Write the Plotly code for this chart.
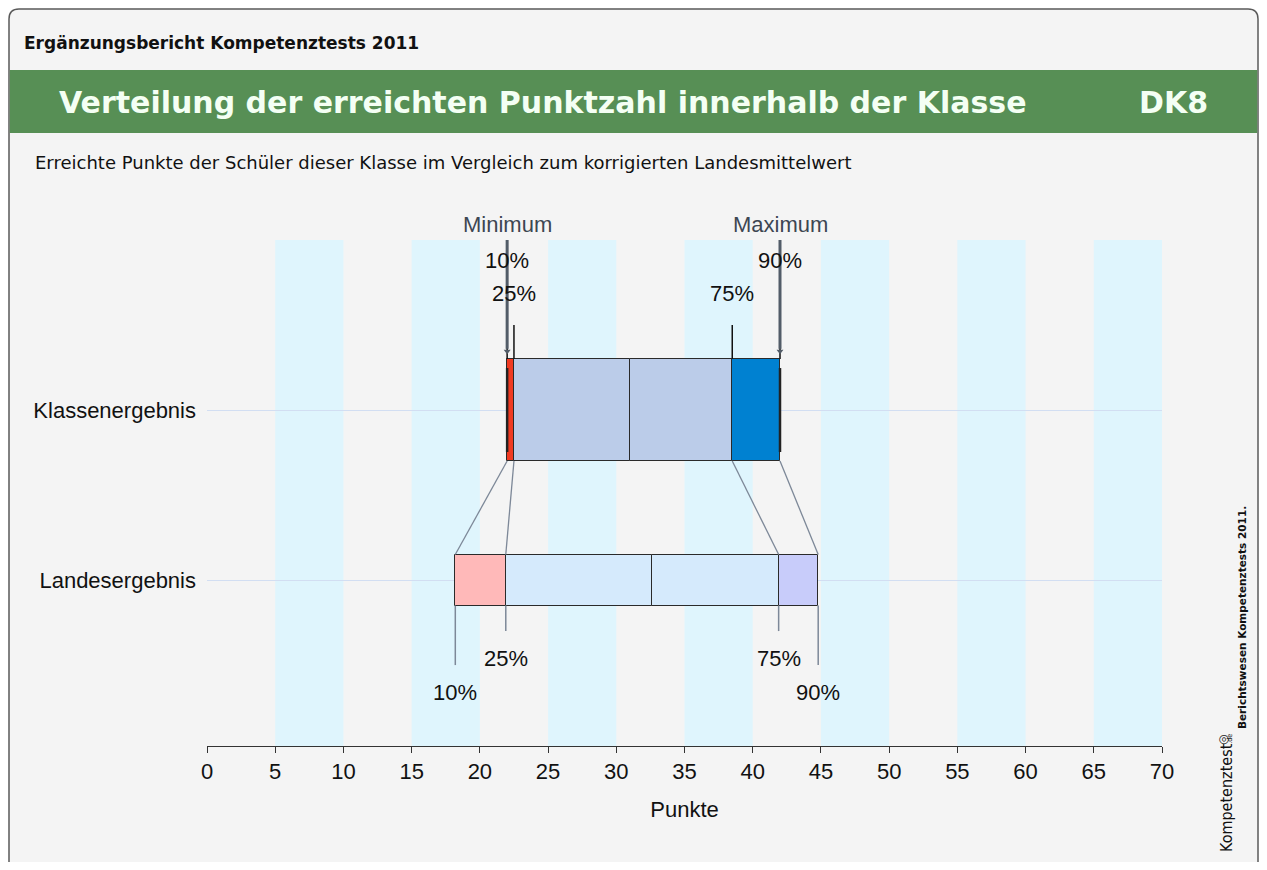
import plotly.graph_objects as go

# ---------------- data ----------------
categories = ["Klassenergebnis", "Landesergebnis"]
perc_labels = ["10%", "25%", "75%", "90%"]
# p10, p25, median, p75, p90
klasse_perc = [22.0, 22.5, 31.0, 38.5, 42.0]
land_perc = [18.2, 21.9, 32.6, 41.9, 44.8]
klasse_min = 22.0
klasse_max = 42.0
x_ticks = [0, 5, 10, 15, 20, 25, 30, 35, 40, 45, 50, 55, 60, 65, 70]

header = "Ergänzungsbericht Kompetenztests 2011"
title = "Verteilung der erreichten Punktzahl innerhalb der Klasse"
code = "DK8"
subtitle = "Erreichte Punkte der Schüler dieser Klasse im Vergleich zum korrigierten Landesmittelwert"

# ---------------- layout helpers (window pixel coords) ----------------
OFF = 8                       # browser body margin
W, H = 1267 - 2 * OFF, 870 - 2 * OFF
PL, PR, PT, PB = 207, 1162, 240, 746


def px(x):
    return (x - PL) / (PR - PL)


def py(y):
    return (PB - y) / (PB - PT)


Y_K, Y_L = 1, 0          # category positions
HK, HL = 0.3, 0.15       # half box heights
klasse_colors = ["#f03a22", "#bbcce9", "#bbcce9", "#0081d1"]
land_colors = ["#ffb9b9", "#d5eafc", "#d5eafc", "#c8ccfa"]
FONT = "Liberation Sans, Arial, Helvetica, sans-serif"
HFONT = "DejaVu Sans, sans-serif"
FS = 22

fig = go.Figure()


def box(perc, yv, half, colors):
    bases = perc[:-1]
    widths = [perc[i + 1] - perc[i] for i in range(4)]
    fig.add_trace(go.Bar(
        y=[yv] * 4, x=widths, base=bases, orientation="h",
        width=2 * half, marker=dict(color=colors, line=dict(color="#2a2a2a", width=1)),
        hoverinfo="skip", showlegend=False))


box(klasse_perc, Y_K, HK, klasse_colors)
box(land_perc, Y_L, HL, land_colors)

idx = [0, 1, 3, 4]  # p10, p25, p75, p90
# connectors class -> land
cx, cy = [], []
for i in idx:
    cx += [klasse_perc[i], land_perc[i], None]
    cy += [Y_K - HK, Y_L + HL, None]
fig.add_trace(go.Scatter(x=cx, y=cy, mode="lines", line=dict(color="#7d8898", width=1.3),
                         hoverinfo="skip", showlegend=False))

# land lines downward
lx, ly = [], []
for i, ln in zip(idx, [0.5, 0.3, 0.3, 0.5]):
    lx += [land_perc[i], land_perc[i], None]
    ly += [Y_L - HL, Y_L - ln, None]
fig.add_trace(go.Scatter(x=lx, y=ly, mode="lines", line=dict(color="#7d8898", width=1.5),
                         hoverinfo="skip", showlegend=False))

# class lines upward
ux, uy = [], []
for i, ln in zip(idx, [0.694, 0.5, 0.5, 0.694]):
    ux += [klasse_perc[i], klasse_perc[i], None]
    uy += [Y_K + HK, Y_K + ln, None]
fig.add_trace(go.Scatter(x=ux, y=uy, mode="lines", line=dict(color="#111111", width=1.5),
                         hoverinfo="skip", showlegend=False))

# min / max markers inside the box
mx, my = [], []
for v in [klasse_min, klasse_max]:
    mx += [v, v, None]
    my += [Y_K + 0.247, Y_K - 0.247, None]
fig.add_trace(go.Scatter(x=mx, y=my, mode="lines", line=dict(color="#222222", width=2.5),
                         hoverinfo="skip", showlegend=False))

# min / max thick grey pointers
gx, gy = [], []
for v in [klasse_min, klasse_max]:
    gx += [v, v, None]
    gy += [Y_K + 1.03, Y_K + 0.36, None]
fig.add_trace(go.Scatter(x=gx, y=gy, mode="lines", line=dict(color="#525c68", width=3),
                         hoverinfo="skip", showlegend=False))
fig.add_trace(go.Scatter(x=[klasse_min, klasse_max], y=[Y_K + 0.345] * 2, mode="markers",
                         marker=dict(symbol="triangle-down", size=6, color="#525c68"),
                         hoverinfo="skip", showlegend=False, cliponaxis=False))

ann = []
# percentage labels
for i, lab, yo in zip(idx, perc_labels, [0.882, 0.688, 0.688, 0.882]):
    ann.append(dict(x=klasse_perc[i], y=Y_K + yo, xref="x", yref="y", text=lab, showarrow=False,
                    font=dict(family=FONT, size=FS, color="#111111")))
for i, lab, yo in zip(idx, perc_labels, [-0.659, -0.459, -0.459, -0.659]):
    ann.append(dict(x=land_perc[i], y=Y_L + yo, xref="x", yref="y", text=lab, showarrow=False,
                    font=dict(family=FONT, size=FS, color="#111111")))
for v, lab in [(klasse_min, "Minimum"), (klasse_max, "Maximum")]:
    ann.append(dict(x=v, y=py(225), xref="x", yref="paper", text=lab, showarrow=False,
                    yanchor="middle", font=dict(family=FONT, size=FS, color="#3d4652")))

# header texts
ann.append(dict(x=px(22), y=py(43), xref="paper", yref="paper", text="<b>" + header + "</b>",
                xanchor="left", yanchor="middle", showarrow=False,
                font=dict(family=HFONT, size=17, color="#111111")))
ann.append(dict(x=px(57), y=py(102), xref="paper", yref="paper", text="<b>" + title + "</b>",
                xanchor="left", yanchor="middle", showarrow=False,
                font=dict(family=HFONT, size=30, color="#f4fff4")))
ann.append(dict(x=px(1210), y=py(102), xref="paper", yref="paper", text="<b>" + code + "</b>",
                xanchor="right", yanchor="middle", showarrow=False,
                font=dict(family=HFONT, size=30, color="#f4fff4")))
ann.append(dict(x=px(33), y=py(162), xref="paper", yref="paper", text=subtitle,
                xanchor="left", yanchor="middle", showarrow=False,
                font=dict(family=HFONT, size=18, color="#111111")))
ann.append(dict(x=px(1242), y=py(618), xref="paper", yref="paper",
                text="<b>Berichtswesen Kompetenztests 2011.</b>", textangle=-90,
                xanchor="center", yanchor="middle", showarrow=False,
                font=dict(family=HFONT, size=10.5, color="#111111")))
ann.append(dict(x=px(1226), y=py(793), xref="paper", yref="paper",
                text="Kompetenztest<span style='font-size:7px'>.de</span>", textangle=-90,
                xanchor="center", yanchor="middle", showarrow=False,
                font=dict(family="DejaVu Sans Condensed, Liberation Sans Narrow, sans-serif",
                          size=16, color="#111111")))
ann.append(dict(x=px(1223), y=py(740), xref="paper", yref="paper", text="◎", textangle=-90,
                xanchor="center", yanchor="middle", showarrow=False,
                font=dict(family="DejaVu Sans, sans-serif", size=12, color="#222222")))

shapes = []
# frame (inside the figure area)
L_, T_, R_ = 9, 9, 1258
r = 10
path = (f"M {px(L_)} {py(900)} L {px(L_)} {py(T_ + r)} Q {px(L_)} {py(T_)} {px(L_ + r)} {py(T_)} "
        f"L {px(R_ - r)} {py(T_)} Q {px(R_)} {py(T_)} {px(R_)} {py(T_ + r)} "
        f"L {px(R_)} {py(900)} Z")
shapes.append(dict(type="path", path=path, xref="paper", yref="paper", layer="below",
                   fillcolor="#f4f4f4", line=dict(color="#5a5a5a", width=1.5)))
shapes.append(dict(type="rect", xref="paper", yref="paper", x0=px(L_ + 0.8), x1=px(R_ - 0.8),
                   y0=py(70), y1=py(133), fillcolor="#578f55", line=dict(width=0), layer="below"))
# vertical bands
for a in x_ticks[1:-1:2]:
    shapes.append(dict(type="rect", xref="x", yref="paper", x0=a, x1=a + 5, y0=0, y1=1,
                       fillcolor="#dff5fd", line=dict(width=0), layer="below"))

fig.update_layout(
    width=W, height=H, autosize=False,
    margin=dict(l=PL - OFF, r=W - (PR - OFF), t=PT - OFF, b=H - (PB - OFF), pad=0),
    paper_bgcolor="#ffffff", plot_bgcolor="#ffffff",
    barmode="overlay", bargap=0,
    annotations=ann, shapes=shapes, showlegend=False,
    font=dict(family=FONT, size=FS, color="#111111"),
)
fig.update_xaxes(range=[0, 70], tickvals=x_ticks, ticks="outside", ticklen=6, tickcolor="#333333",
                 showline=True, linecolor="#333333", linewidth=1, showgrid=False, zeroline=False,
                 tickfont=dict(family=FONT, size=FS, color="#111111"),
                 title=dict(text="Punkte", standoff=18, font=dict(family=FONT, size=FS, color="#111111")))
fig.update_yaxes(range=[-0.976, 2.0], tickvals=[Y_K, Y_L], ticktext=categories, showgrid=True,
                 gridcolor="#d2def2", gridwidth=1, zeroline=False, showline=False,
                 ticklabelstandoff=10, tickfont=dict(family=FONT, size=FS, color="#111111"))

fig.write_html("out.html")
